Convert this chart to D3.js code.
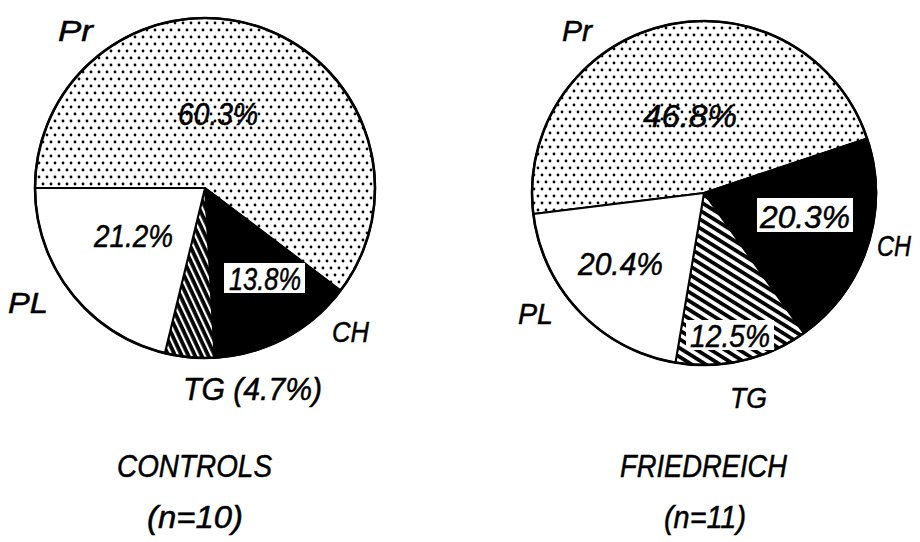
<!DOCTYPE html>
<html>
<head>
<meta charset="utf-8">
<script src="https://cdnjs.cloudflare.com/ajax/libs/d3/7.8.5/d3.min.js"></script>
<style>
  html, body { margin: 0; padding: 0; background: #fff; }
  svg { display: block; }
  text { font-family: "Liberation Sans", Arial, sans-serif; font-style: italic; fill: #000; stroke: #000; stroke-width: 0.5; }
</style>
</head>
<body>
<div id="viz"></div>
<script>
// data
var categories = ['Pr', 'CH', 'TG', 'PL'];
var controlsValues = [60.3, 13.8, 4.7, 21.2];
var friedreichValues = [46.8, 20.3, 12.5, 20.4];
var groupNames = ['CONTROLS', 'FRIEDREICH'];
var groupSizes = ['(n=10)', '(n=11)'];

var width = 920, height = 542;

var svg = d3.select('#viz').append('svg')
  .attr('width', width)
  .attr('height', height);

var defs = svg.append('defs');

// stippled fill for Pr
var dots = defs.append('pattern')
  .attr('id', 'dots')
  .attr('patternUnits', 'userSpaceOnUse')
  .attr('width', 8).attr('height', 14);
dots.append('rect').attr('width', 8).attr('height', 14).attr('fill', '#fff');
dots.append('circle').attr('cx', 2).attr('cy', 3).attr('r', 1.4).attr('fill', '#000');
dots.append('circle').attr('cx', 6).attr('cy', 10).attr('r', 1.4).attr('fill', '#000');

// hatching for TG, one per pie (different slant)
function hatch(id, angle, period, lw){
  var p = defs.append('pattern')
    .attr('id', id)
    .attr('patternUnits', 'userSpaceOnUse')
    .attr('width', 20).attr('height', period)
    .attr('patternTransform', 'rotate(' + angle + ')');
  p.append('rect').attr('width', 20).attr('height', period).attr('fill', '#fff');
  p.append('rect').attr('y', 0).attr('width', 20).attr('height', lw).attr('fill', '#000');
}
hatch('hatchL', 65, 6, 3.8);
hatch('hatchR', 32, 7.5, 3.8);

var pies = [
  { values: controlsValues, cx: 205, cy: 188, r: 170, start: 270, hatch: 'hatchL' },
  { values: friedreichValues, cx: 704, cy: 193, r: 172, start: 263, hatch: 'hatchR' }
];

function fillFor(cat, p){
  if (cat == 'Pr') return 'url(#dots)';
  if (cat == 'CH') return '#000';
  if (cat == 'TG') return 'url(#' + p.hatch + ')';
  return '#fff';
}

pies.forEach(function(p){
  var rows = categories.map(function(c, i){ return { cat: c, value: p.values[i] }; });
  var a0 = p.start * Math.PI / 180;
  var pie = d3.pie().sort(null).value(function(d){ return d.value; })
    .startAngle(a0).endAngle(a0 + 2 * Math.PI);
  var arc = d3.arc().innerRadius(0).outerRadius(p.r);

  var g = svg.append('g').attr('transform', 'translate(' + p.cx + ',' + p.cy + ')');
  g.selectAll('path')
    .data(pie(rows))
    .enter().append('path')
    .attr('d', arc)
    .attr('fill', function(d){ return fillFor(d.data.cat, p); })
    .attr('stroke', '#000')
    .attr('stroke-width', 2)
    .attr('stroke-linejoin', 'round');
  g.append('circle').attr('r', p.r).attr('fill', 'none')
    .attr('stroke', '#000').attr('stroke-width', 2.6);
});

function pct(v){ return d3.format('.1f')(v) + '%'; }

// hand lettered annotations: [text, x, baseline, width, size, box]
var notes = [
  ['Pr', 58, 41, 35, 30],
  [pct(controlsValues[0]), 178, 125, 80, 32],
  [pct(controlsValues[3]), 94, 247, 79, 32],
  [pct(controlsValues[1]), 229, 290, 72, 31, [224, 263, 81, 30]],
  ['PL', 8, 313, 40, 30],
  ['CH', 332, 342, 37, 30],
  ['TG (' + pct(controlsValues[2]) + ')', 183, 400, 139, 31],
  [groupNames[0], 117, 477, 155, 31],
  [groupSizes[0], 147, 528, 96, 31],

  ['Pr', 562, 41, 30, 30],
  [pct(friedreichValues[0]), 643, 127, 94, 32],
  [pct(friedreichValues[1]), 760, 228, 90, 32, [757, 198, 96, 34]],
  ['CH', 877, 256, 34, 30],
  [pct(friedreichValues[3]), 578, 275, 85, 32],
  ['PL', 518, 324, 35, 30],
  [pct(friedreichValues[2]), 690, 347, 80, 31, [686, 320, 88, 30]],
  ['TG', 730, 408, 37, 30],
  [groupNames[1], 620, 477, 167, 31],
  [groupSizes[1], 664, 528, 82, 31]
];

var ann = svg.append('g');
notes.forEach(function(n){
  if (n[5]){
    ann.append('rect')
      .attr('x', n[5][0]).attr('y', n[5][1])
      .attr('width', n[5][2]).attr('height', n[5][3])
      .attr('fill', '#fff');
  }
  ann.append('text')
    .attr('x', n[1]).attr('y', n[2])
    .attr('font-size', n[4])
    .attr('textLength', n[3])
    .attr('lengthAdjust', 'spacingAndGlyphs')
    .text(n[0]);
});
</script>
</body>
</html>
